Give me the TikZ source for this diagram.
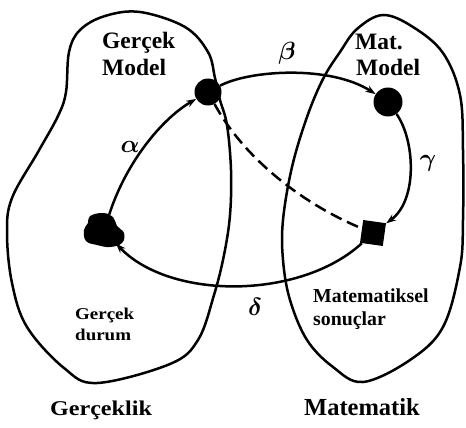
\documentclass[tikz,border=0pt]{standalone}
\usepackage{fontspec}
\setmainfont{Liberation Serif}
\newfontfamily\widefont[FakeStretch=1.15]{Liberation Serif}
\usetikzlibrary{arrows.meta}
\begin{document}
\begin{tikzpicture}[x=1pt,y=-1pt,
  blobline/.style={line width=2.5pt},
  arr/.style={line width=2.5pt,-{Stealth[length=10pt,width=7pt]}},
  dot/.style={circle,fill=black,inner sep=0pt},
  txt/.style={inner sep=0pt,anchor=base west},
  big/.style={txt,font=\bfseries\fontsize{23.5}{26}\selectfont},
  mid/.style={txt,font=\bfseries\fontsize{19.8}{23}\selectfont},
  small/.style={txt,font=\widefont\bfseries\fontsize{16.5}{20}\selectfont},
  greek/.style={font=\boldmath\fontsize{23}{23}\selectfont,inner sep=0pt}]
\useasboundingbox (0,0) rectangle (466,428);
% left region (Gerceklik)
\draw[blobline] plot[smooth cycle,tension=0.6] coordinates {
 (140,12) (185,27) (208,52) (215,78) (220,100) (227,125) (231,170) (230,215)
 (224,255) (214,295) (198,340) (170,364) (97,383) (64,368) (27,327)
 (12,283) (7,233) (12,198) (38,152) (58,116) (66,92) (69,52) (80,30) (105,16)};
% right region (Matematik)
\draw[blobline] plot[smooth cycle,tension=0.6] coordinates {
 (383,15) (413,27) (443,53) (460,95) (463,150) (463,220) (460,267)
 (443,327) (410,360) (363,382) (333,367) (307,340) (290,300) (283,260)
 (283,220) (292,167) (307,117) (323,79) (340,52) (357,29)};
% nodes
\node[dot,minimum size=27pt] (gm) at (208,92) {};
\node[dot,minimum size=29pt] (mm) at (388,102) {};
\node[fill=black,minimum size=23pt,inner sep=0pt,rotate=-8] (ms) at (373,233) {};
\node[circle,minimum size=34pt,inner sep=0pt] (gd) at (104,231) {};
\fill plot[smooth cycle,tension=0.7] coordinates {
 (90,216) (103,213) (113,217) (117,226) (124,233) (122,243) (110,247)
 (97,245) (86,241) (84,230) (88,223)};
% connectors
\draw[arr] (gd) .. controls (125,165) and (160,120) .. (gm);
\draw[arr] (gm) .. controls (250,70) and (330,65) .. (mm);
\draw[arr] (mm) .. controls (415,140) and (418,200) .. (ms);
\draw[arr] (ms) .. controls (300,300) and (170,300) .. (gd);
\draw[line width=2.5pt,dash pattern=on 12pt off 6pt] (gm) .. controls (245,160) and (305,205) .. (ms);
% labels
\node[big] (t1a) at (102,49) {Gerçek};
\node[big] (t1b) at (102,75) {Model};
\node[big] (t2a) at (355,50) {Mat.};
\node[big] (t2b) at (356,75) {Model};
\node[small] (t3a) at (75,319) {Gerçek};
\node[small] (t3b) at (75,340) {durum};
\node[mid] (t4a) at (313,302) {Matematiksel};
\node[mid] (t4b) at (313,325) {sonuçlar};
\node[font=\widefont\bfseries\fontsize{21}{21}\selectfont,inner sep=0pt,anchor=base] (t5) at (101,415) {Gerçeklik};
\node[font=\bfseries\fontsize{24.5}{24.5}\selectfont,inner sep=0pt,anchor=base] (t6) at (362,415) {Matematik};
\node[greek] (a) at (130,147) {$\alpha$};
\node[greek] (b) at (287,53) {$\beta$};
\node[greek] (c) at (428,163) {$\gamma$};
\node[greek] (d) at (255,307) {$\delta$};
\end{tikzpicture}
\end{document}
